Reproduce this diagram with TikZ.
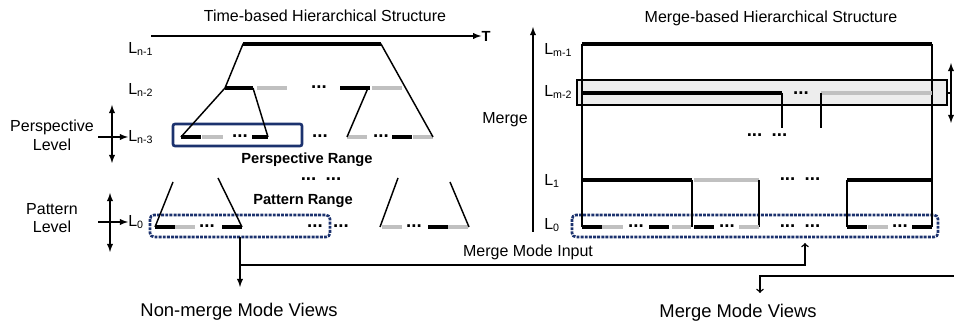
\documentclass[tikz,border=0pt]{standalone}
\usepackage{fontspec}
\setmainfont{Liberation Sans}
\definecolor{navy}{RGB}{28,50,110}
\definecolor{lgray}{RGB}{192,192,192}
\tikzset{
  bar/.style={line width=2.6pt, line cap=butt},
  thin/.style={line width=1.1pt},
  lvl/.style={anchor=west, inner sep=0pt, font=\fontsize{12}{12}\selectfont},
  txt/.style={inner sep=0pt, font=\fontsize{12}{14}\selectfont, align=center},
  btxt/.style={inner sep=0pt, font=\fontsize{11}{11}\selectfont\bfseries},
  big/.style={inner sep=0pt, font=\fontsize{13.8}{14}\selectfont},
  dts/.style={inner sep=0pt, font=\fontsize{14}{14}\selectfont\bfseries},
  rangebox/.style={draw=navy, line width=2pt, rounded corners=1.5pt},
  patbox/.style={draw=navy, line width=2pt, rounded corners=3pt, dash pattern=on 2.2pt off 0.9pt},
}
\begin{document}
\begin{tikzpicture}[x=0.75pt, y=-0.75pt]
\useasboundingbox (0,0) rectangle (954,323);

% time-based structure
\node[txt] (ttitle) at (325,16) {Time-based Hierarchical Structure};
\node[inner sep=0pt, font=\fontsize{11}{11}\selectfont\bfseries] (T) at (486,36) {T};
\coordinate (t0) at (151,36);
\draw[thin, -latex] (t0) -- (T.west);

\node[lvl] (ln1) at (128,49) {L\textsubscript{n-1}};
\node[lvl] (ln2) at (128,90) {L\textsubscript{n-2}};
\node[lvl] (ln3) at (128,137) {L\textsubscript{n-3}};
\node[lvl] (l0) at (128,222) {L\textsubscript{0}};

\draw[rangebox] (173,124) rectangle (302,146);
\draw[patbox] (150,215) rectangle (330,237);

\draw[bar] (243,44) -- (381,44);
\foreach \a/\b/\c in {225/253/black, 257/287/lgray, 340/370/black, 372/402/lgray}
  \draw[bar, color=\c] (\a,88) -- (\b,88);
\foreach \a/\b/\c in {181/201/black, 202/223/lgray, 252/268/black, 347/367/lgray, 392/412/black, 413/433/lgray}
  \draw[bar, color=\c] (\a,137) -- (\b,137);
\foreach \a/\b/\c in {155/175/black, 175/195/lgray, 222/242/black, 382/402/lgray, 428/448/black, 448/468/lgray}
  \draw[bar, color=\c] (\a,227) -- (\b,227);

\foreach \x/\y in {319/87, 240/136, 320/136, 381/136, 207/226, 315/226, 341/226, 414/226}
  \node[dts] at (\x,\y) {...};
\node[dts] at (321,179) {...\,\,\,...};

\draw[thin] (225,88) -- (243,44) -- (381,44) -- (433,137);
\draw[thin] (181,137) -- (225,88);
\draw[thin] (253,88) -- (268,137);
\draw[thin] (368,88) -- (347,137);
\draw[thin] (173,182) -- (155,227);
\draw[thin] (218,178) -- (242,227);
\draw[thin] (398,178) -- (380,227);
\draw[thin] (450,182) -- (469,227);

\node[btxt] (prange) at (307,160) {Perspective Range};
\node[btxt] (trange) at (303,201) {Pattern Range};

\node[txt] (plevel) at (52,135) {Perspective\\Level};
\node[txt] (tlevel) at (52,218) {Pattern\\Level};
\draw[thin, latex-latex] (112,105) -- (112,163);
\draw[thin, -latex] (98,137) -- (ln3.west);
\draw[thin, latex-latex] (110,193) -- (110,252);
\draw[thin, -latex] (98,222) -- (l0.west);

% merge-based structure
\node[txt] (mtitle) at (771,18) {Merge-based Hierarchical Structure};
\coordinate (m0) at (533,232);
\coordinate (m1) at (533,27);
\draw[thin, -latex] (m0) -- (m1);
\node[txt] (merge) at (505,120) {Merge};

\draw[black, thin, fill=black!7] (577,80) rectangle (947,105);
\draw[thin, latex-latex] (951,63) -- (951,123);
\draw[thin] (947,93) -- (951,93);

\node[lvl] (lm1) at (544,50) {L\textsubscript{m-1}};
\node[lvl] (lm2) at (544,92) {L\textsubscript{m-2}};
\node[lvl] (lm11) at (544,181) {L\textsubscript{1}};
\node[lvl] (lm0) at (544,225) {L\textsubscript{0}};

\draw[patbox] (572,215) rectangle (938,237);

\draw[thin] (582,44) -- (582,227);
\draw[thin] (932,44) -- (932,227);
\draw[bar] (582,44) -- (932,44);
\draw[bar] (582,93) -- (782,93);
\draw[bar, lgray] (821,93) -- (932,93);
\draw[thin] (782,93) -- (782,128);
\draw[thin] (821,93) -- (821,128);
\node[dts] at (801,93) {...};
\node[dts] at (767,135) {...\,\,\,...};

\draw[bar] (582,180) -- (692,180);
\draw[bar, lgray] (694,180) -- (759,180);
\draw[bar] (847,180) -- (932,180);
\foreach \x in {692, 759, 847}
  \draw[thin] (\x,180) -- (\x,227);
\node[dts] at (800,179) {...\,\,\,...};

\foreach \a/\b/\c in {582/602/black, 602/623/lgray, 649/669/black, 672/691/lgray, 694/714/black, 739/759/lgray, 847/867/black, 868/888/lgray, 912/932/black}
  \draw[bar, color=\c] (\a,227) -- (\b,227);
\foreach \x in {636, 727, 900}
  \node[dts] at (\x,226) {...};
\node[dts] at (800,226) {...\,\,\,...};

% mode connectors
\coordinate (nm0) at (240,237);
\node[big] (nmviews) at (239,312) {Non-merge Mode Views};
\draw[thin, -latex] (nm0) -- (240,287);
\coordinate (mi0) at (240,265);
\coordinate (mi1) at (805,243);
\draw[thin, ->] (mi0) -- (805,265) -- (mi1);
\node[txt] (minput) at (528,252) {Merge Mode Input};
\coordinate (mv0) at (954,276);
\coordinate (mv1) at (760,293);
\draw[thin, ->] (mv0) -- (760,276) -- (mv1);
\node[big] (mviews) at (738,313) {Merge Mode Views};
\end{tikzpicture}
\end{document}
